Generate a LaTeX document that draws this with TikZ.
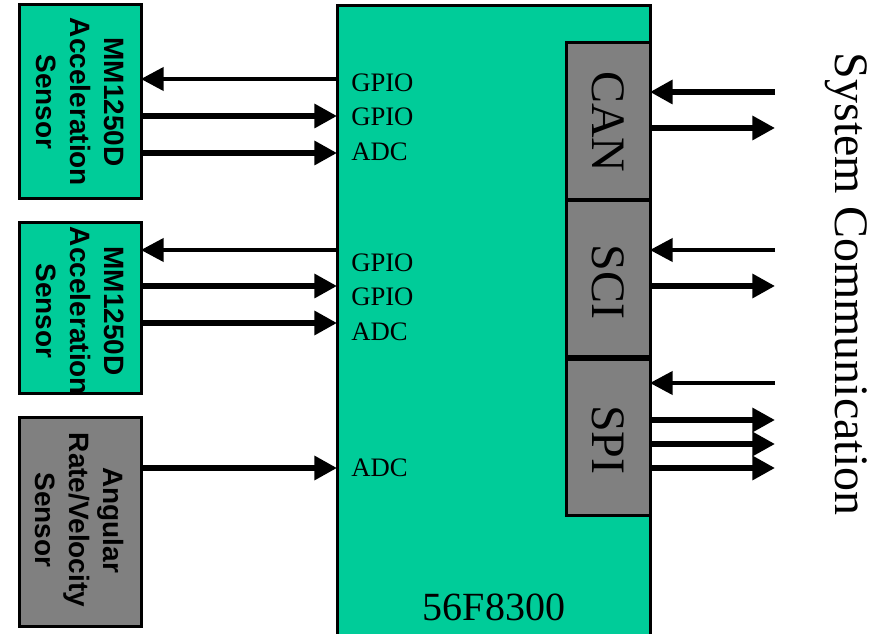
\documentclass[tikz,border=0pt]{standalone}
\usepackage{fontspec}
\setmainfont{Liberation Serif}
\newfontfamily\sensfont{Liberation Sans}
\usetikzlibrary{arrows.meta}
\definecolor{chipgreen}{RGB}{0,204,153}
\definecolor{portgray}{RGB}{128,128,128}
\tikzset{
  box/.style={draw=black,line width=2.25pt,inner sep=0pt,outer sep=0pt},
  sensbox/.style={box,fill=chipgreen,minimum width=91.5pt},
  portbox/.style={box,fill=portgray,minimum width=63pt,minimum height=117.5pt},
  senstext/.style={rotate=-90,align=center,inner sep=0pt,font=\sensfont\bfseries\fontsize{21}{25.5}\selectfont},
  pinlabel/.style={anchor=west,inner sep=0pt,font=\fontsize{20}{24}\selectfont},
  portlabel/.style={rotate=-90,anchor=base,inner sep=0pt,font=\fontsize{36}{40}\selectfont},
  fatline/.style={line width=4pt},
  thinline/.style={line width=2.4pt}
}
\begin{document}
\begin{tikzpicture}[x=0.75pt,y=-0.75pt,>={Triangle[length=17pt,width=17.5pt]}]
\useasboundingbox (0,0) rectangle (875,634);
% controller
\node[box,fill=chipgreen,minimum width=234.75pt,minimum height=479.25pt] (chip) at (493.5,325.5) {};
\node[portbox] (can) at (608,121) {};
\node[portbox] (sci) at (608,278.5) {};
\node[portbox] (spi) at (608,437.5) {};
\node[portlabel] (canlabel) at (592,122) {CAN};
\node[portlabel] (scilabel) at (592,282) {SCI};
\node[portlabel] (spilabel) at (592,440) {SPI};
\node[anchor=base,inner sep=0pt,font=\fontsize{30}{34}\selectfont] (chipname) at (494,620) {56F8300};
% sensors
\node[sensbox,minimum height=145.5pt] (accA) at (80,102) {};
\node[sensbox,minimum height=128.25pt] (accB) at (80,308.5) {};
\node[sensbox,fill=portgray,minimum height=156pt] (rate) at (80,522) {};
\node[senstext] (accAtext) at (accA) {MM1250D\\Acceleration\\Sensor};
\node[senstext] (accBtext) at (80,311) {MM1250D\\Acceleration\\Sensor};
\node[senstext] (ratetext) at (80,520) {Angular\\Rate/Velocity\\Sensor};
% pins
\node[pinlabel] (gpioA1) at (351,83) {GPIO};
\node[pinlabel] (gpioA2) at (351,117) {GPIO};
\node[pinlabel] (adcA) at (351,152) {ADC};
\node[pinlabel] (gpioB1) at (351,263) {GPIO};
\node[pinlabel] (gpioB2) at (351,297) {GPIO};
\node[pinlabel] (adcB) at (351,332) {ADC};
\node[pinlabel] (adcC) at (351,468) {ADC};
\draw[thinline,->] (chip.west |- 0,79) -- (accA.east |- 0,79);
\foreach \y in {116,153} \draw[fatline,->] (accA.east |- 0,\y) -- (chip.west |- 0,\y);
\draw[thinline,->] (chip.west |- 0,250) -- (accB.east |- 0,250);
\foreach \y in {286,323} \draw[fatline,->] (accB.east |- 0,\y) -- (chip.west |- 0,\y);
\draw[fatline,->] (rate.east |- 0,468) -- (chip.west |- 0,468);
% system side
\coordinate (sys) at (775,0);
\draw[fatline,->] (sys |- 0,92) -- (can.east |- 0,92);
\draw[fatline,->] (can.east |- 0,128) -- (sys |- 0,128);
\draw[thinline,->] (sys |- 0,250) -- (sci.east |- 0,250);
\draw[fatline,->] (sci.east |- 0,286) -- (sys |- 0,286);
\draw[thinline,->] (sys |- 0,383) -- (spi.east |- 0,383);
\foreach \y in {420,444,468} \draw[fatline,->] (spi.east |- 0,\y) -- (sys |- 0,\y);
\node[portlabel] (syslabel) at (835,284) {System Communication};
\end{tikzpicture}
\end{document}
